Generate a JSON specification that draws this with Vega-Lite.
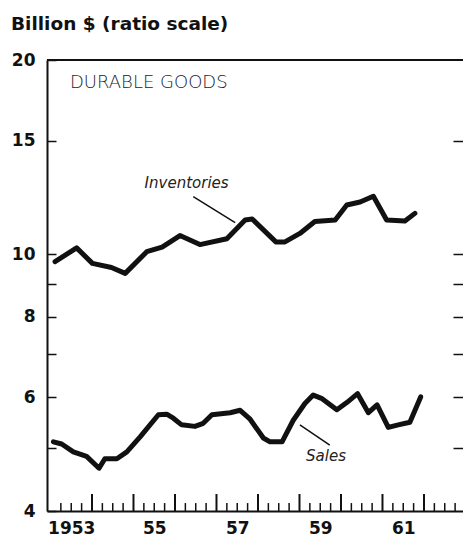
{
  "$schema": "https://vega.github.io/schema/vega-lite/v6.json",
  "width": 416,
  "height": 451,
  "autosize": {"type": "none"},
  "padding": {"left": 47, "top": 60, "right": 0, "bottom": 34},
  "background": "white",
  "config": {"view": {"stroke": null}, "font": "DejaVu Sans"},
  "title": {"text": "Billion $  (ratio scale)", "anchor": "start", "frame": "group", "dx": -36, "offset": 3, "baseline": "alphabetic", "fontSize": 18.5, "fontWeight": "bold", "font": "DejaVu Sans", "color": "#111"},
  "datasets": {
    "series": [
      {"series": "Inventories", "t": 1953.11, "v": 9.74},
      {"series": "Inventories", "t": 1953.63, "v": 10.23},
      {"series": "Inventories", "t": 1954.01, "v": 9.68},
      {"series": "Inventories", "t": 1954.47, "v": 9.54},
      {"series": "Inventories", "t": 1954.80, "v": 9.34},
      {"series": "Inventories", "t": 1955.32, "v": 10.09},
      {"series": "Inventories", "t": 1955.69, "v": 10.26},
      {"series": "Inventories", "t": 1956.12, "v": 10.69},
      {"series": "Inventories", "t": 1956.60, "v": 10.35},
      {"series": "Inventories", "t": 1957.25, "v": 10.57},
      {"series": "Inventories", "t": 1957.69, "v": 11.30},
      {"series": "Inventories", "t": 1957.86, "v": 11.34},
      {"series": "Inventories", "t": 1958.43, "v": 10.45},
      {"series": "Inventories", "t": 1958.65, "v": 10.45},
      {"series": "Inventories", "t": 1959.01, "v": 10.77},
      {"series": "Inventories", "t": 1959.37, "v": 11.24},
      {"series": "Inventories", "t": 1959.86, "v": 11.30},
      {"series": "Inventories", "t": 1960.14, "v": 11.92},
      {"series": "Inventories", "t": 1960.46, "v": 12.05},
      {"series": "Inventories", "t": 1960.78, "v": 12.30},
      {"series": "Inventories", "t": 1961.10, "v": 11.30},
      {"series": "Inventories", "t": 1961.54, "v": 11.26},
      {"series": "Inventories", "t": 1961.78, "v": 11.57},
      {"series": "Sales", "t": 1953.07, "v": 5.12},
      {"series": "Sales", "t": 1953.27, "v": 5.08},
      {"series": "Sales", "t": 1953.55, "v": 4.94},
      {"series": "Sales", "t": 1953.87, "v": 4.86},
      {"series": "Sales", "t": 1954.17, "v": 4.66},
      {"series": "Sales", "t": 1954.31, "v": 4.82},
      {"series": "Sales", "t": 1954.60, "v": 4.82},
      {"series": "Sales", "t": 1954.84, "v": 4.94},
      {"series": "Sales", "t": 1955.16, "v": 5.21},
      {"series": "Sales", "t": 1955.60, "v": 5.64},
      {"series": "Sales", "t": 1955.80, "v": 5.65},
      {"series": "Sales", "t": 1955.96, "v": 5.57},
      {"series": "Sales", "t": 1956.16, "v": 5.44},
      {"series": "Sales", "t": 1956.48, "v": 5.41},
      {"series": "Sales", "t": 1956.68, "v": 5.47},
      {"series": "Sales", "t": 1956.89, "v": 5.64},
      {"series": "Sales", "t": 1957.33, "v": 5.68},
      {"series": "Sales", "t": 1957.57, "v": 5.73},
      {"series": "Sales", "t": 1957.81, "v": 5.55},
      {"series": "Sales", "t": 1958.13, "v": 5.19},
      {"series": "Sales", "t": 1958.29, "v": 5.12},
      {"series": "Sales", "t": 1958.58, "v": 5.12},
      {"series": "Sales", "t": 1958.85, "v": 5.53},
      {"series": "Sales", "t": 1959.13, "v": 5.87},
      {"series": "Sales", "t": 1959.33, "v": 6.05},
      {"series": "Sales", "t": 1959.53, "v": 5.98},
      {"series": "Sales", "t": 1959.90, "v": 5.74},
      {"series": "Sales", "t": 1960.14, "v": 5.89},
      {"series": "Sales", "t": 1960.40, "v": 6.08},
      {"series": "Sales", "t": 1960.66, "v": 5.68},
      {"series": "Sales", "t": 1960.87, "v": 5.84},
      {"series": "Sales", "t": 1961.14, "v": 5.39},
      {"series": "Sales", "t": 1961.38, "v": 5.44},
      {"series": "Sales", "t": 1961.66, "v": 5.49},
      {"series": "Sales", "t": 1961.92, "v": 6.01}
    ],
    "leaders": [
      {"id": "Inventories", "t": 1956.44, "v": 12.28},
      {"id": "Inventories", "t": 1957.45, "v": 11.19},
      {"id": "Sales", "t": 1959.01, "v": 5.44},
      {"id": "Sales", "t": 1959.73, "v": 5.06}
    ],
    "labels": [
      {"label": "Inventories", "t": 1956.28, "v": 12.9},
      {"label": "Sales", "t": 1959.64, "v": 4.87}
    ],
    "panel": [
      {"label": "DURABLE GOODS", "t": 1953.47, "v": 18.4}
    ],
    "yearTicks": [
      {"t": 1954}, {"t": 1955}, {"t": 1956}, {"t": 1957}, {"t": 1958},
      {"t": 1959}, {"t": 1960}, {"t": 1961}, {"t": 1962}
    ],
    "quarterTicks": [
      {"t": 1953.25}, {"t": 1953.5}, {"t": 1953.75},
      {"t": 1954.25}, {"t": 1954.5}, {"t": 1954.75},
      {"t": 1955.25}, {"t": 1955.5}, {"t": 1955.75},
      {"t": 1956.25}, {"t": 1956.5}, {"t": 1956.75},
      {"t": 1957.25}, {"t": 1957.5}, {"t": 1957.75},
      {"t": 1958.25}, {"t": 1958.5}, {"t": 1958.75},
      {"t": 1959.25}, {"t": 1959.5}, {"t": 1959.75},
      {"t": 1960.25}, {"t": 1960.5}, {"t": 1960.75},
      {"t": 1961.25}, {"t": 1961.5}, {"t": 1961.75},
      {"t": 1962.25}, {"t": 1962.5}, {"t": 1962.75}
    ]
  },
  "layer": [
    {
      "layer": [
        {
          "data": {"name": "series"},
          "mark": {"type": "line", "color": "#111", "strokeWidth": 5, "strokeJoin": "round", "strokeCap": "round"},
          "encoding": {
            "x": {"field": "t", "type": "quantitative", "scale": {"domain": [1952.916, 1962.94], "nice": false, "zero": false},
              "axis": {"title": null, "grid": false, "ticks": false, "values": [1953.5, 1955.5, 1957.5, 1959.5, 1961.5],
                "labelExpr": "datum.value == 1953.5 ? '1953' : datum.value == 1955.5 ? '55' : datum.value == 1957.5 ? '57' : datum.value == 1959.5 ? '59' : datum.value == 1961.5 ? '61' : ''",
                "domainColor": "#111", "domainWidth": 2,
                "labelPadding": 9, "labelFontSize": 17, "labelFontWeight": "bold", "labelColor": "#111", "labelFont": "DejaVu Sans",
                "labelOverlap": false, "labelFlush": false, "labelBound": false}},
            "y": {"field": "v", "type": "quantitative", "scale": {"type": "log", "domain": [4, 20], "nice": false},
              "axis": {"title": null, "grid": false, "values": [4, 5, 6, 7, 8, 9, 10, 15, 20],
                "labelExpr": "(datum.value == 5 || datum.value == 7 || datum.value == 9) ? '' : toString(datum.value)",
                "tickSize": -9, "tickColor": "#111", "tickWidth": 1.5, "domainColor": "#111", "domainWidth": 2,
                "labelPadding": 21, "labelFontSize": 17, "labelFontWeight": "bold", "labelColor": "#111", "labelFont": "DejaVu Sans",
                "labelOverlap": false, "labelFlush": false, "labelBound": false}},
            "detail": {"field": "series", "type": "nominal"}
          }
        },
        {
          "data": {"name": "leaders"},
          "mark": {"type": "line", "color": "#111", "strokeWidth": 1.5},
          "encoding": {
            "x": {"field": "t", "type": "quantitative"},
            "y": {"field": "v", "type": "quantitative"},
            "detail": {"field": "id", "type": "nominal"}
          }
        },
        {
          "data": {"name": "labels"},
          "mark": {"type": "text", "font": "DejaVu Sans", "fontStyle": "italic", "fontSize": 15, "color": "#222", "align": "center", "baseline": "middle"},
          "encoding": {
            "x": {"field": "t", "type": "quantitative"},
            "y": {"field": "v", "type": "quantitative"},
            "text": {"field": "label"}
          }
        },
        {
          "data": {"name": "panel"},
          "mark": {"type": "text", "font": "DejaVu Sans", "fontSize": 18, "fontWeight": 300, "color": "#222", "align": "left", "baseline": "middle"},
          "encoding": {
            "x": {"field": "t", "type": "quantitative"},
            "y": {"field": "v", "type": "quantitative"},
            "text": {"field": "label"}
          }
        },
        {
          "data": {"name": "yearTicks"},
          "mark": {"type": "rule", "color": "#111", "strokeWidth": 2},
          "encoding": {
            "x": {"field": "t", "type": "quantitative"},
            "y": {"datum": 4, "type": "quantitative"},
            "y2": {"datum": 4.25}
          }
        },
        {
          "data": {"name": "quarterTicks"},
          "mark": {"type": "rule", "color": "#111", "strokeWidth": 1.5},
          "encoding": {
            "x": {"field": "t", "type": "quantitative"},
            "y": {"datum": 4, "type": "quantitative"},
            "y2": {"datum": 4.115}
          }
        }
      ]
    },
    {
      "data": {"values": [{"v": 20}]},
      "mark": {"type": "rule", "color": "#111", "strokeWidth": 2},
      "encoding": {
        "y": {"field": "v", "type": "quantitative", "scale": {"type": "log", "domain": [4, 20], "nice": false},
          "axis": {"orient": "right", "title": null, "grid": false, "labels": false, "domain": false, "values": [5, 6, 7, 8, 9, 10, 15], "tickSize": -10, "tickColor": "#111", "tickWidth": 1.5}}
      }
    }
  ],
  "resolve": {"axis": {"y": "independent"}}
}
